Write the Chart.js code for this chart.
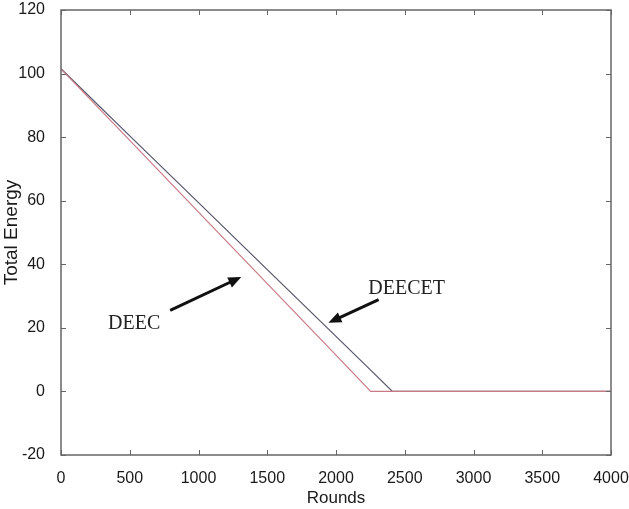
<!DOCTYPE html>
<html>
<head>
<meta charset="utf-8">
<script src="https://cdn.jsdelivr.net/npm/chart.js@4.4.0/dist/chart.umd.min.js"></script>
<style>
  html, body { margin: 0; padding: 0; background: #fff; }
  #wrap { width: 629px; height: 509px; position: relative; }
</style>
</head>
<body>
<div id="wrap"><canvas id="myChart"></canvas></div>
<script>
// values
const rounds = [0, 500, 1000, 1500, 2000, 2252, 2410, 3000, 4000];
const deec = [101.5, 79, 56.4, 33.9, 11.4, 0, 0, 0, 0];
const deecet = [101.5, 80.4, 59.4, 38.3, 17.3, 6.7, 0, 0, 0];
const xTicks = [0, 500, 1000, 1500, 2000, 2500, 3000, 3500, 4000];
const yTicks = [-20, 0, 20, 40, 60, 80, 100, 120];

// labels and arrows (data coordinates)
const labelText = ['DEEC', 'DEECET'];
const labelPos = [[532, 21.3], [2514, 32.2]];
const arrowFrom = [[794, 25.5], [2310, 28.9]];
const arrowTo = [[1311, 36.0], [1945, 21.6]];

const toPoints = (xs, ys) => xs.map((x, i) => ({ x: x, y: ys[i] }));

// matlab-like frame with inward ticks, plus the text arrows
const framePlugin = {
    id: 'frame',
    afterDatasetsDraw(chart) {
        const { ctx, chartArea: a, scales } = chart;
        const xs = scales.x, ys = scales.y;
        ctx.save();
        ctx.strokeStyle = '#666';
        ctx.lineWidth = 1.5;
        ctx.strokeRect(a.left, a.top, a.right - a.left, a.bottom - a.top);
        ctx.lineWidth = 1;
        ctx.beginPath();
        xTicks.forEach(v => {
            const px = Math.round(xs.getPixelForValue(v)) + 0.5;
            ctx.moveTo(px, a.bottom); ctx.lineTo(px, a.bottom - 5);
            ctx.moveTo(px, a.top); ctx.lineTo(px, a.top + 5);
        });
        yTicks.forEach(v => {
            const py = Math.round(ys.getPixelForValue(v)) + 0.5;
            ctx.moveTo(a.left, py); ctx.lineTo(a.left + 5, py);
            ctx.moveTo(a.right, py); ctx.lineTo(a.right - 5, py);
        });
        ctx.stroke();

        ctx.fillStyle = '#222';
        ctx.font = '20px "Liberation Serif"';
        ctx.textAlign = 'center';
        ctx.textBaseline = 'middle';
        labelText.forEach((t, i) => {
            ctx.fillText(t, xs.getPixelForValue(labelPos[i][0]), ys.getPixelForValue(labelPos[i][1]));
        });

        ctx.strokeStyle = '#111';
        ctx.fillStyle = '#111';
        ctx.lineWidth = 3;
        arrowFrom.forEach((f, i) => {
            const x1 = xs.getPixelForValue(f[0]), y1 = ys.getPixelForValue(f[1]);
            const x2 = xs.getPixelForValue(arrowTo[i][0]), y2 = ys.getPixelForValue(arrowTo[i][1]);
            const ang = Math.atan2(y2 - y1, x2 - x1);
            const hl = 14;
            ctx.beginPath();
            ctx.moveTo(x1, y1);
            ctx.lineTo(x2 - Math.cos(ang) * hl * 0.8, y2 - Math.sin(ang) * hl * 0.8);
            ctx.stroke();
            ctx.beginPath();
            ctx.moveTo(x2, y2);
            ctx.lineTo(x2 - hl * Math.cos(ang - 0.4), y2 - hl * Math.sin(ang - 0.4));
            ctx.lineTo(x2 - hl * Math.cos(ang + 0.4), y2 - hl * Math.sin(ang + 0.4));
            ctx.closePath();
            ctx.fill();
        });
        ctx.restore();
    }
};

window.onload = () => {
    const ctx = document.getElementById('myChart');
    new Chart(ctx, {
        type: 'scatter',
        data: {
            datasets: [{
                label: 'DEEC',
                data: toPoints(rounds, deec),
                showLine: true,
                borderColor: '#c97a85',
                borderWidth: 1.2,
                pointRadius: 0,
                tension: 0,
                order: 0
            }, {
                label: 'DEECET',
                data: toPoints(rounds, deecet),
                showLine: true,
                borderColor: '#55556a',
                borderWidth: 1.2,
                pointRadius: 0,
                tension: 0,
                order: 1
            }]
        },
        options: {
            responsive: true,
            maintainAspectRatio: false,
            animation: false,
            layout: { padding: { top: 10, right: 18, left: 0, bottom: 0 } },
            plugins: {
                legend: { display: false },
                tooltip: { enabled: false }
            },
            scales: {
                x: {
                    type: 'linear',
                    min: 0,
                    max: 4000,
                    afterBuildTicks: s => { s.ticks = xTicks.map(v => ({ value: v })); },
                    afterFit: s => { s.height = 54; s.paddingRight = 0; s.paddingLeft = 0; },
                    border: { display: false },
                    grid: { display: false },
                    ticks: {
                        color: '#1a1a1a',
                        padding: 6,
                        maxRotation: 0,
                        callback: v => String(v),
                        font: { family: 'Liberation Sans', size: 16 }
                    },
                    title: {
                        display: true,
                        text: 'Rounds',
                        color: '#1a1a1a',
                        padding: { top: 6, bottom: 0 },
                        font: { family: 'Liberation Sans', size: 17 }
                    }
                },
                y: {
                    type: 'linear',
                    min: -20,
                    max: 120,
                    afterBuildTicks: s => { s.ticks = yTicks.map(v => ({ value: v })); },
                    afterFit: s => { s.width = 61; s.paddingTop = 0; s.paddingBottom = 0; },
                    border: { display: false },
                    grid: { display: false },
                    ticks: {
                        color: '#1a1a1a',
                        padding: 8,
                        callback: v => String(v),
                        font: { family: 'Liberation Sans', size: 16 }
                    },
                    title: {
                        display: true,
                        text: 'Total Energy',
                        color: '#1a1a1a',
                        padding: { top: 0, bottom: 0 },
                        font: { family: 'Liberation Sans', size: 19 }
                    }
                }
            }
        },
        plugins: [framePlugin]
    });
};
</script>
</body>
</html>
